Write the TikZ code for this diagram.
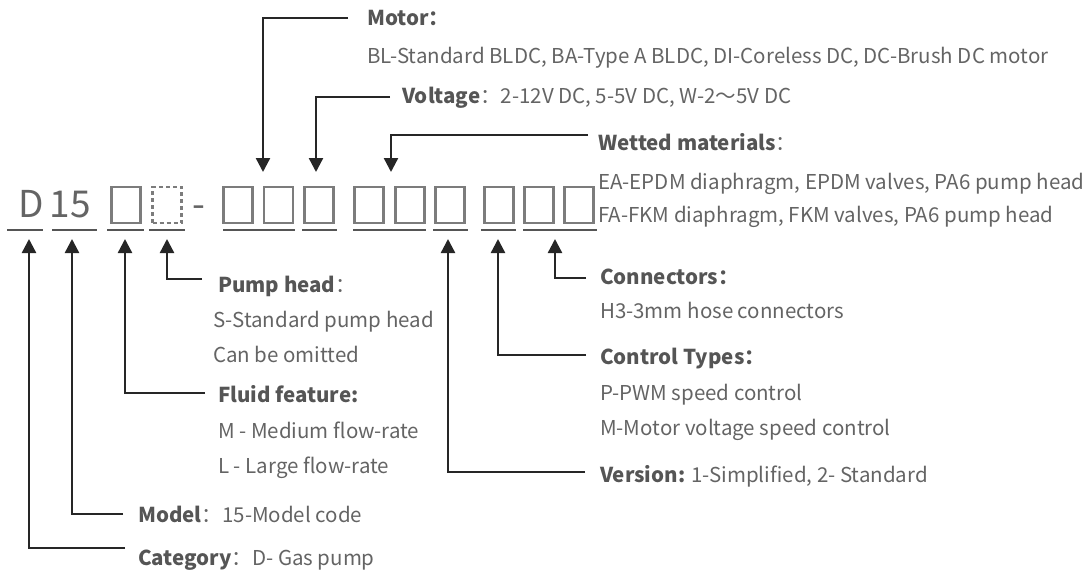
\documentclass[tikz,border=0pt]{standalone}
\usepackage{fontspec}
\setmainfont{Noto Sans CJK SC}
\usetikzlibrary{arrows.meta}
\definecolor{txt}{HTML}{646464}
\definecolor{hd}{HTML}{555555}
\definecolor{ln}{HTML}{262626}
\definecolor{bx}{HTML}{7C7C7C}
\definecolor{ul}{HTML}{555555}
\begin{document}
\begin{tikzpicture}[x=1pt,y=-1pt,
  cell/.style={draw=bx, line width=2.2pt, minimum width=29pt, minimum height=36pt, inner sep=0},
  dcell/.style={cell, dash pattern=on 4pt off 3pt},
  note/.style={anchor=west, inner sep=0, text=txt, text height=15pt, text depth=5pt, font=\fontsize{20.5}{24}\selectfont},
  big/.style={anchor=base, inner sep=0, text=txt, font=\fontsize{37}{42}\selectfont},
  arr/.style={draw=ln, line width=2.4pt, -{Triangle[width=14pt,length=14pt]}},
  uline/.style={draw=ul, line width=2.8pt}]
\useasboundingbox (0,0) rectangle (1087,571);

% code characters and boxes
\node[big] (cD) at (31.5,217) {D};
\node[big] (c15) at (70,217) {15};
\node[big] (dash) at (199,217) {-};
\node[cell]  (b1) at (126,205) {};
\node[dcell] (b2) at (167,205) {};
\node[cell]  (b3) at (238,205) {};
\node[cell]  (b4) at (278.5,205) {};
\node[cell]  (b5) at (319,205) {};
\node[cell]  (b6) at (369,205) {};
\node[cell]  (b7) at (410,205) {};
\node[cell]  (b8) at (450,205) {};
\node[cell]  (b9) at (499,205) {};
\node[cell]  (b10) at (539,205) {};
\node[cell]  (b11) at (579,205) {};

% underlines
\foreach \a/\b in {7/43, 52/97, 107/144, 149/185, 223/295, 302/337, 353/426, 433/468, 481/516, 523/597}
  \draw[uline] (\a,230) -- (\b,230);

% arrow tips
\coordinate (tcat) at (29,239);
\coordinate (tmod) at (72,239);
\coordinate (tflu) at (125,239);
\coordinate (tpum) at (167,239);
\coordinate (tver) at (448,239);
\coordinate (tcon) at (498,239);
\coordinate (tcnx) at (555,239);
\coordinate (tmot) at (263,172);
\coordinate (tvol) at (316,172);
\coordinate (twet) at (391,172);

% labels
\node[note] (mot) at (367,20) {\textcolor{hd}{\textbf{Motor：}}};
\node[note] (mot1) at (367,58) {BL-Standard BLDC, BA-Type A BLDC, DI-Coreless DC, DC-Brush DC motor};
\node[note] (vol) at (402,98) {\textcolor{hd}{\textbf{Voltage}}：2-12V DC, 5-5V DC, W-2～5V DC};
\node[note] (wet) at (598,145) {\textcolor{hd}{\textbf{Wetted materials}}：};
\node[note] (wet1) at (598,184) {EA-EPDM diaphragm, EPDM valves, PA6 pump head};
\node[note] (wet2) at (598,217) {FA-FKM diaphragm, FKM valves, PA6 pump head};
\node[note] (cnx) at (600,279) {\textcolor{hd}{\textbf{Connectors：}}};
\node[note] (cnx1) at (600,313) {H3-3mm hose connectors};
\node[note] (con) at (600,359) {\textcolor{hd}{\textbf{Control Types：}}};
\node[note] (con1) at (600,395) {P-PWM speed control};
\node[note] (con2) at (600,430) {M-Motor voltage speed control};
\node[note] (ver) at (600,477) {\textcolor{hd}{\textbf{Version:}} 1-Simplified, 2- Standard};
\node[note] (pum) at (218,287) {\textcolor{hd}{\textbf{Pump head}}：};
\node[note] (pum1) at (213,322) {S-Standard pump head};
\node[note] (pum2) at (213,357) {Can be omitted};
\node[note] (flu) at (218,397) {\textcolor{hd}{\textbf{Fluid feature:}}};
\node[note] (flu1) at (218,433) {M - Medium flow-rate};
\node[note] (flu2) at (218,468) {L - Large flow-rate};
\node[note] (mod) at (138,517) {\textcolor{hd}{\textbf{Model}}：15-Model code};
\node[note] (cat) at (138,560) {\textcolor{hd}{\textbf{Category}}：D- Gas pump};

% connectors
\draw[arr] ([xshift=-13pt,yshift=12pt]cat.west) -| (tcat);
\draw[arr] ([xshift=-15pt,yshift=3pt]mod.west) -| (tmod);
\draw[arr] ([xshift=-13pt,yshift=4pt]flu.west) -| (tflu);
\draw[arr] ([xshift=-16pt,yshift=8pt]pum.west) -| (tpum);
\draw[arr] ([xshift=-15pt,yshift=5pt]ver.west) -| (tver);
\draw[arr] ([xshift=-14pt,yshift=4pt]con.west) -| (tcon);
\draw[arr] ([xshift=-14pt,yshift=1pt]cnx.west) -| (tcnx);
\draw[arr] ([xshift=-19pt,yshift=2pt]mot.west) -| (tmot);
\draw[arr] ([xshift=-12pt,yshift=1pt]vol.west) -| (tvol);
\draw[arr] ([xshift=-10pt,yshift=10pt]wet.west) -| (twet);
\end{tikzpicture}
\end{document}
